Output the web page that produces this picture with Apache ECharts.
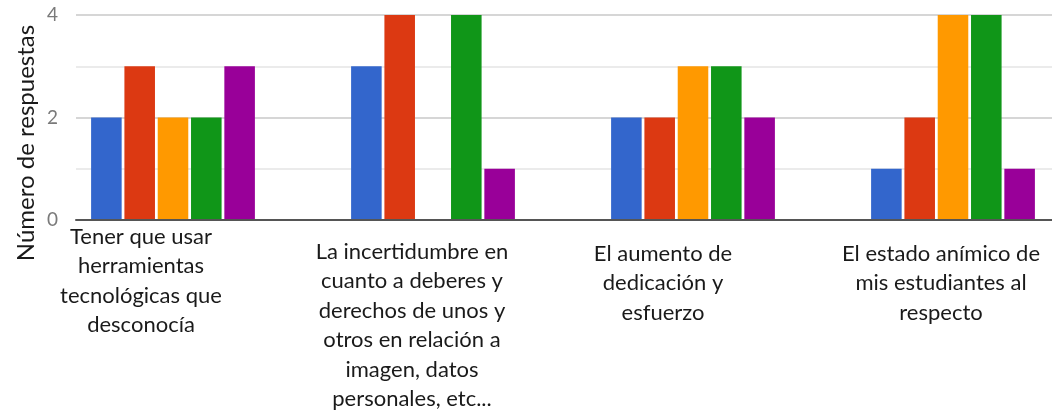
<!DOCTYPE html>
<html>
<head>
<meta charset="utf-8">
<script src="https://cdn.jsdelivr.net/npm/echarts@6/dist/echarts.min.js"></script>
<style>
html,body{margin:0;padding:0;background:#fff;overflow:hidden;}
#chart{width:1100px;height:414px;}
</style>
</head>
<body>
<div id="chart"></div>
<script>
// ---- data ----
const categories = [
  'Tener que usar\nherramientas\ntecnológicas que\ndesconocía',
  'La incertidumbre en\ncuanto a deberes y\nderechos de unos y\notros en relación a\nimagen, datos\npersonales, etc...',
  'El aumento de\ndedicación y\nesfuerzo',
  'El estado anímico de\nmis estudiantes al\nrespecto'
];
const seriesBlue   = [2, 3, 2, 1];
const seriesRed    = [3, 4, 2, 2];
const seriesOrange = [2, 0, 3, 4];
const seriesGreen  = [2, 4, 3, 4];
const seriesPurple = [3, 1, 2, 1];
const yTicks = [0, 2, 4];
const yTitle = 'Número de respuestas';

// ---- styling ----
const colors = ['#3366cc', '#dc3912', '#ff9900', '#109618', '#990099'];
const labelShiftX = [-32, -21, -30, -12];
const labelShiftY = [0, 15, 17, 17];
const font = 'Lato, "Open Sans", sans-serif';

const catItems = categories.map((c, i) => ({
  value: c,
  textStyle: {
    padding: [labelShiftY[i], Math.max(0, -labelShiftX[i] * 2), 0, 0]
  }
}));

const allSeries = [seriesBlue, seriesRed, seriesOrange, seriesGreen, seriesPurple];

const chart = echarts.init(document.getElementById('chart'), null, {renderer: 'canvas'});
chart.setOption({
  animation: false,
  color: colors,
  grid: [
    {left: 43, top: 15, width: 1040, height: 205},
    {left: 76, right: 0, top: 15, height: 205}
  ],
  xAxis: [
    {
      gridIndex: 0, type: 'category', data: catItems,
      axisLine: {show: false}, axisTick: {show: false},
      axisLabel: {
        interval: 0, margin: 2, fontFamily: font, fontSize: 22,
        lineHeight: 29.5, color: '#1a1a1a', align: 'center'
      }
    },
    {
      gridIndex: 1, type: 'value', min: 0, max: 1, z: 5,
      axisLine: {show: true, lineStyle: {color: '#555', width: 2}},
      axisTick: {show: false}, axisLabel: {show: false}, splitLine: {show: false}
    }
  ],
  yAxis: [
    {gridIndex: 0, type: 'value', min: 0, max: 4, interval: 1, show: false},
    {
      gridIndex: 1, type: 'value', min: 0, max: 4, interval: 1,
      axisLine: {show: false}, axisTick: {show: false},
      axisLabel: {
        margin: 18, fontFamily: font, fontSize: 19, color: '#7a7a7a',
        formatter: v => (yTicks.indexOf(v) >= 0 ? String(v) : '')
      },
      splitLine: {lineStyle: {color: ['#d6d6d6', '#ebebeb'], width: 2}}
    }
  ],
  graphic: [{
    type: 'text', x: 26, y: 143, rotation: Math.PI / 2,
    style: {
      text: yTitle, fontFamily: font, fontSize: 24, fill: '#1a1a1a',
      align: 'center', verticalAlign: 'middle'
    }
  }],
  series: allSeries.map((d, i) => ({
    type: 'bar', xAxisIndex: 0, yAxisIndex: 0, data: d,
    barCategoryGap: '37%', barGap: '9%', z: 2
  }))
});
</script>
</body>
</html>
